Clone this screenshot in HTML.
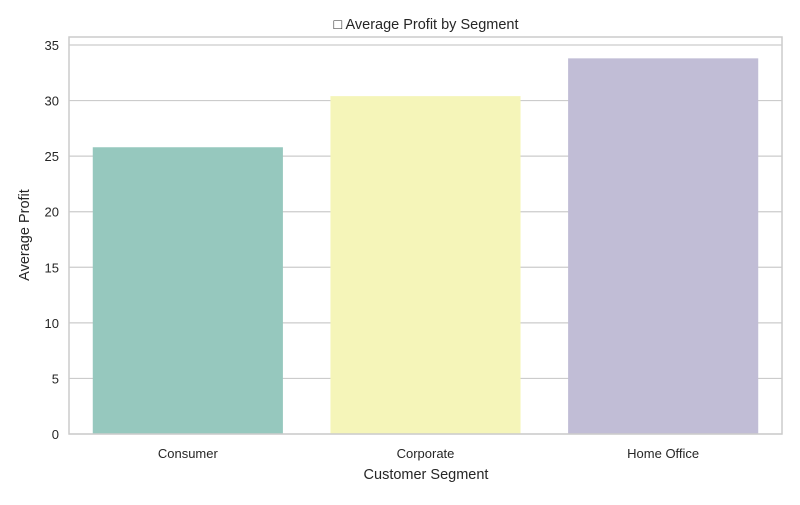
<!DOCTYPE html>
<html><head><meta charset="utf-8"><style>
html,body{margin:0;padding:0;background:#fff;}
svg text{font-family:"Liberation Sans","DejaVu Sans",sans-serif;fill:#262626;}
</style></head><body>
<svg id="chart" width="800" height="500">
<text x="426" y="29" font-size="14.5" text-anchor="middle">□ Average Profit by Segment</text>
<g id="grid"></g><g id="bars"></g><g id="axes"></g>
<text x="426" y="479" font-size="14.5" text-anchor="middle">Customer Segment</text>
<text transform="translate(29,235) rotate(-90)" font-size="14.5" text-anchor="middle">Average Profit</text>
</svg>
<script>
const categories=["Consumer","Corporate","Home Office"];
const values=[25.8,30.4,33.8];
const colors=["#96c8be","#f5f5b9","#c1bdd6"];
const yTicks=[0,5,10,15,20,25,30,35];
const L=69,R=782,T=37,B=434;
const y=v=>B-v*(B-45)/35;
const band=(R-L)/categories.length;
const x=i=>L+band*i;
const ns="http://www.w3.org/2000/svg";
function mk(tag,attrs,parent){const e=document.createElementNS(ns,tag);for(const k in attrs)e.setAttribute(k,attrs[k]);document.getElementById(parent).appendChild(e);return e;}
yTicks.forEach(t=>{
  const g=mk("line",{x1:L,x2:R,y1:y(t),y2:y(t),stroke:"#cccccc","stroke-width":1.2},"grid");
  
  
  const tx=mk("text",{x:L-10,y:y(t)+5,"font-size":13,"text-anchor":"end"},"axes");
  tx.textContent=t;
  
  
});
categories.forEach((c,i)=>{
  const w=band*0.8;
  const r=mk("rect",{x:x(i)+band*0.1,y:y(values[i]),width:w,height:B-y(values[i]),fill:colors[i]},"bars");
  
  
  const tx=mk("text",{x:x(i)+band/2,y:B+24,"font-size":13,"text-anchor":"middle"},"axes");
  tx.textContent=c;
  
  
});
const f=mk("rect",{x:L,y:T,width:R-L,height:B-T,fill:"none",stroke:"#cccccc","stroke-width":1.5},"axes");


</script>
</body></html>
